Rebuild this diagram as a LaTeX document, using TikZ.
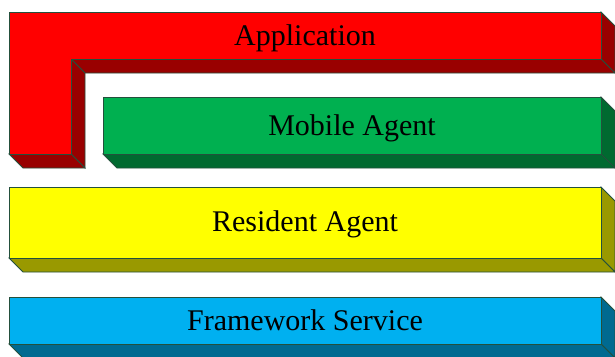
\documentclass[tikz,border=0pt]{standalone}
\usepackage{fontspec}
\setmainfont{Liberation Serif}
\definecolor{edge}{HTML}{24503C}
\definecolor{redF}{HTML}{FF0000}\definecolor{redD}{HTML}{990000}
\definecolor{grnF}{HTML}{00B050}\definecolor{grnD}{HTML}{006A30}
\definecolor{yelF}{HTML}{FFFF00}\definecolor{yelD}{HTML}{999900}
\definecolor{bluF}{HTML}{00B0F0}\definecolor{bluD}{HTML}{006A90}
\tikzset{face/.style={draw=edge,line width=0.8pt,line join=miter},
  lbl/.style={font=\fontsize{30}{36}\selectfont,inner sep=0pt,anchor=base}}
\begin{document}
\begin{tikzpicture}[x=1pt,y=-1pt]
\useasboundingbox (0,0) rectangle (615,356);
\clip (0,0) rectangle (615,356);
% Application (L shape)
\filldraw[face,fill=redD] (601,12) -- (615,26) -- (615,73) -- (601,59) -- cycle;
\filldraw[face,fill=redD] (71,59) -- (601,59) -- (615,73) -- (85,73) -- cycle;
\filldraw[face,fill=redD] (71,59) -- (85,73) -- (85,168) -- (71,154) -- cycle;
\filldraw[face,fill=redD] (9,154) -- (71,154) -- (85,168) -- (23,168) -- cycle;
\filldraw[face,fill=redF] (9,12) -- (601,12) -- (601,59) -- (71,59) -- (71,154) -- (9,154) -- cycle;
\node[lbl] (app) at (305,45) {Application};
% Mobile Agent
\filldraw[face,fill=grnD] (601,97) -- (615,111) -- (615,168) -- (601,154) -- cycle;
\filldraw[face,fill=grnD] (103,154) -- (601,154) -- (615,168) -- (117,168) -- cycle;
\filldraw[face,fill=grnF] (103,97) rectangle (601,154);
\node[lbl] (mob) at (352,135) {Mobile Agent};
% Resident Agent
\filldraw[face,fill=yelD] (601,187) -- (615,201) -- (615,272) -- (601,258) -- cycle;
\filldraw[face,fill=yelD] (9,258) -- (601,258) -- (615,272) -- (23,272) -- cycle;
\filldraw[face,fill=yelF] (9,187) rectangle (601,258);
\node[lbl] (res) at (305,231.5) {Resident Agent};
% Framework Service
\filldraw[face,fill=bluD] (601,297) -- (615,311) -- (615,358) -- (601,344) -- cycle;
\filldraw[face,fill=bluD] (9,344) -- (601,344) -- (615,358) -- (23,358) -- cycle;
\filldraw[face,fill=bluF] (9,297) rectangle (601,344);
\node[lbl] (fws) at (305,330) {Framework Service};
\end{tikzpicture}
\end{document}
